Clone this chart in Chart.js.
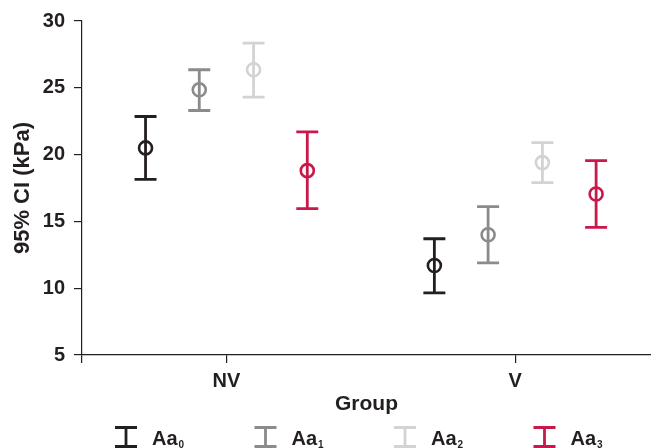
<!DOCTYPE html>
<html lang="en">
<head>
<meta charset="UTF-8">
<title>95% CI by group</title>
<script src="https://cdn.jsdelivr.net/npm/chart.js"></script>
<style>
  html, body { margin: 0; padding: 0; background: #ffffff; overflow: hidden; }
  canvas { display: block; }
</style>
</head>
<body>
<canvas id="ciChart" width="651" height="448"></canvas>
<script>
// groups on the x axis, drawn at positions 1 and 2
const groups = ['NV', 'V'];
const groupPos = [1, 2];
const yTicks = [5, 10, 15, 20, 25, 30];

// series: Aa with subscript 0..3
const seriesBase = 'Aa';
const seriesSubs = ['0', '1', '2', '3'];
const seriesColors = ['#231f20', '#8b8b8d', '#d3d3d3', '#c9184a'];
const dodge = [-0.28, -0.094, 0.094, 0.28];

// mean and 95% CI limits, [NV, V]
const aa0Mean = [20.5, 11.7];
const aa0Low = [18.15, 9.65];
const aa0High = [22.85, 13.7];

const aa1Mean = [24.85, 14.0];
const aa1Low = [23.3, 11.9];
const aa1High = [26.35, 16.1];

const aa2Mean = [26.35, 19.4];
const aa2Low = [24.3, 17.9];
const aa2High = [28.35, 20.9];

const aa3Mean = [18.8, 17.05];
const aa3Low = [15.95, 14.55];
const aa3High = [21.7, 19.55];

const means = [aa0Mean, aa1Mean, aa2Mean, aa3Mean];
const lows = [aa0Low, aa1Low, aa2Low, aa3Low];
const highs = [aa0High, aa1High, aa2High, aa3High];

const fontFamily = "'Liberation Sans', Arial, Helvetica, sans-serif";
const textColor = '#231f20';
const axisColor = '#231f20';

const datasets = seriesSubs.map((sub, s) => ({
    label: seriesBase + sub,
    data: groups.map((g, i) => ({ x: groupPos[i] + dodge[s], y: means[s][i] })),
    low: lows[s],
    high: highs[s],
    borderColor: seriesColors[s],
    backgroundColor: 'rgba(0,0,0,0)',
    pointRadius: 6.5,
    pointBorderWidth: 2.6,
    pointHoverRadius: 6.5,
    showLine: false
}));

// error bars: vertical line with caps, drawn through the scales
const errorBars = {
    id: 'errorBars',
    beforeDatasetsDraw(chart) {
        const { ctx, scales: { x, y } } = chart;
        const capHalf = 11;
        ctx.save();
        ctx.lineWidth = 2.8;
        chart.data.datasets.forEach((ds) => {
            ctx.strokeStyle = ds.borderColor;
            ds.data.forEach((pt, i) => {
                const px = x.getPixelForValue(pt.x);
                const top = y.getPixelForValue(ds.high[i]);
                const bot = y.getPixelForValue(ds.low[i]);
                ctx.beginPath();
                ctx.moveTo(px, top);
                ctx.lineTo(px, bot);
                ctx.moveTo(px - capHalf, top);
                ctx.lineTo(px + capHalf, top);
                ctx.moveTo(px - capHalf, bot);
                ctx.lineTo(px + capHalf, bot);
                ctx.stroke();
            });
        });
        ctx.restore();
    }
};

// legend with error bar icons and subscripted labels
const ciLegend = {
    id: 'ciLegend',
    afterDraw(chart) {
        const ctx = chart.ctx;
        const startX = 115, step = 139.5, iconW = 22;
        const iconTop = 427.5, iconBottom = 446.5, baseline = 445;
        ctx.save();
        chart.data.datasets.forEach((ds, i) => {
            const x = startX + i * step;
            ctx.strokeStyle = ds.borderColor;
            ctx.lineWidth = 2.8;
            ctx.beginPath();
            ctx.moveTo(x, iconTop);
            ctx.lineTo(x + iconW, iconTop);
            ctx.moveTo(x + iconW / 2, iconTop);
            ctx.lineTo(x + iconW / 2, iconBottom);
            ctx.moveTo(x, iconBottom);
            ctx.lineTo(x + iconW, iconBottom);
            ctx.stroke();

            ctx.fillStyle = textColor;
            ctx.textBaseline = 'alphabetic';
            ctx.textAlign = 'left';
            ctx.font = 'bold 20px ' + fontFamily;
            const tx = x + 37;
            ctx.fillText(seriesBase, tx, baseline);
            const w = ctx.measureText(seriesBase).width;
            ctx.font = 'bold 10px ' + fontFamily;
            ctx.fillText(seriesSubs[i], tx + w + 1, baseline + 3);
        });
        ctx.restore();
    }
};

const config = {
    type: 'scatter',
    data: { datasets: datasets },
    options: {
        responsive: false,
        animation: false,
        events: [],
        layout: { autoPadding: false, padding: { top: 20, right: 0, bottom: 31, left: 0 } },
        plugins: {
            legend: { display: false },
            tooltip: { enabled: false }
        },
        scales: {
            x: {
                type: 'linear',
                min: 0.5,
                max: 2.47,
                afterBuildTicks: (scale) => {
                    scale.ticks = [0.5].concat(groupPos).map(v => ({ value: v }));
                },
                afterFit: (scale) => {
                    scale.height = 62;
                    scale.paddingLeft = 0;
                    scale.paddingRight = 0;
                },
                ticks: {
                    autoSkip: false,
                    maxRotation: 0,
                    padding: 6,
                    color: textColor,
                    font: { family: fontFamily, size: 20, weight: 'bold' },
                    callback: (v) => {
                        const i = groupPos.indexOf(v);
                        return i >= 0 ? groups[i] : '';
                    }
                },
                grid: { drawOnChartArea: false, tickLength: 8, color: axisColor, lineWidth: 1.2 },
                border: { color: axisColor, width: 1.2 },
                title: {
                    display: true,
                    text: 'Group',
                    color: textColor,
                    padding: 0,
                    font: { family: fontFamily, size: 21, weight: 'bold' }
                }
            },
            y: {
                min: 5,
                max: 30,
                afterBuildTicks: (scale) => {
                    scale.ticks = yTicks.map(v => ({ value: v }));
                },
                afterFit: (scale) => { scale.width = 82; },
                ticks: {
                    padding: 9,
                    color: textColor,
                    font: { family: fontFamily, size: 20, weight: 'bold' }
                },
                grid: { drawOnChartArea: false, tickLength: 8, color: axisColor, lineWidth: 1.2 },
                border: { color: axisColor, width: 1.2 },
                title: {
                    display: true,
                    text: '95% CI (kPa)',
                    color: textColor,
                    padding: { top: 10, bottom: 0 },
                    font: { family: fontFamily, size: 22, weight: 'bold' }
                }
            }
        }
    },
    plugins: [errorBars, ciLegend]
};

const ciChart = new Chart(document.getElementById('ciChart'), config);
</script>
</body>
</html>
